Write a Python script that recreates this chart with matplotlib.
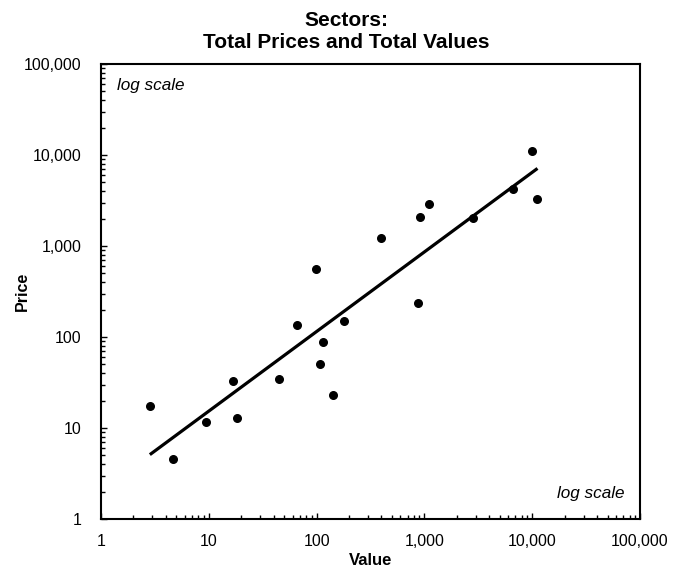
import numpy as np
import matplotlib
matplotlib.use("Agg")
import matplotlib.pyplot as plt
from matplotlib.ticker import FuncFormatter, LogLocator, NullFormatter

plt.rcParams["font.family"] = ["Liberation Sans", "DejaVu Sans"]

# Sector data
Value = [2.84, 4.61, 9.5, 16.9, 18.4, 44.5, 66.3, 99, 107, 114, 142, 179,
         397, 867, 918, 1112, 2823, 6670, 10000, 11200]
Price = [17.5, 4.6, 11.6, 32.6, 12.9, 34.5, 135, 559, 50.5, 89, 22.9, 149,
         1225, 235, 2100, 2915, 2047, 4265, 11000, 3260]

# Power trendline fitted in log space
Slope, Intercept = np.polyfit(np.log10(Value), np.log10(Price), 1)
xLine = np.array([min(Value), max(Value)])
yLine = 10 ** (Intercept + Slope * np.log10(xLine))

fig = plt.figure(figsize=(6.88, 5.71), dpi=100)
ax = fig.add_axes([0.1468, 0.0911, 0.7834, 0.7968])

ax.plot(xLine, yLine, color="black", linewidth=2.3, solid_capstyle="butt", zorder=2)
ax.scatter(Value, Price, s=30, color="black", zorder=3)

ax.set_xscale("log")
ax.set_yscale("log")
ax.set_xlim(1, 100000)
ax.set_ylim(1, 100000)

commaFmt = FuncFormatter(lambda v, p: f"{v:,.0f}")
for axis in (ax.xaxis, ax.yaxis):
    axis.set_major_locator(LogLocator(base=10, numticks=10))
    axis.set_minor_locator(LogLocator(base=10, subs=np.arange(2, 10), numticks=20))
    axis.set_major_formatter(commaFmt)
    axis.set_minor_formatter(NullFormatter())

ax.tick_params(which="major", direction="in", length=4, width=1, labelsize=11.5)
ax.tick_params(which="minor", direction="in", length=3, width=1)
ax.tick_params(axis="x", which="major", pad=11)
ax.tick_params(axis="y", which="major", pad=14)
ax.tick_params(top=False, right=False, which="both")
for s in ax.spines.values():
    s.set_linewidth(1.5)

# Title is centred on the figure, not the axes
fig.text(0.503, 0.945, "Sectors:\nTotal Prices and Total Values", fontsize=15,
         fontweight="bold", ha="center", va="center", linespacing=1.2)
ax.set_xlabel("Value", fontsize=12, fontweight="bold", labelpad=3)
ax.set_ylabel("Price", fontsize=11.5, fontweight="bold")
ax.yaxis.set_label_coords(-0.132, 0.5)

ax.text(0.029, 0.952, "log scale", transform=ax.transAxes, fontsize=12.3,
        style="italic", ha="left", va="center")
ax.text(0.972, 0.057, "log scale", transform=ax.transAxes, fontsize=12.3,
        style="italic", ha="right", va="center")

fig.savefig("out.png", dpi=100)
